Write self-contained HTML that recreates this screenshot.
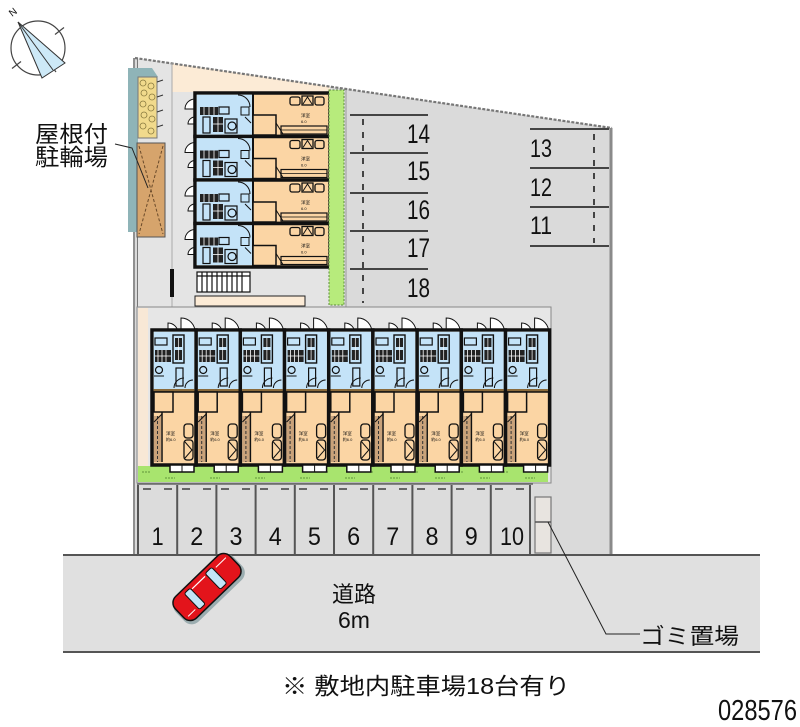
<!DOCTYPE html>
<html><head><meta charset="utf-8"><style>
html,body{margin:0;padding:0;background:#fff;}
svg{display:block;}
text{font-family:"Liberation Sans","Noto Sans CJK JP",sans-serif;fill:#111;}
</style></head><body>
<svg width="800" height="727" viewBox="0 0 800 727" xmlns="http://www.w3.org/2000/svg">
<defs>
<g id="bu">
  <path d="M16,23 V13 A10,10 0 0 1 26,23" fill="#fff" stroke="#111" stroke-width="1"/>
  <path d="M29,23 V8 A14,14 0 0 1 43,23" fill="#fff" stroke="#111" stroke-width="1"/>
  <rect x="0" y="20" width="44" height="135" fill="#fbd5a4" stroke="#111" stroke-width="3.5"/>
  <rect x="1.7" y="21.7" width="40.6" height="58" fill="#c4e3f8"/>
  <rect x="1.7" y="79" width="40.6" height="3" fill="#8a6a3a"/>
  <line x1="0" y1="82" x2="44" y2="82" stroke="#111" stroke-width="1.5"/>
  <rect x="2" y="82" width="19" height="20" fill="#fbd5a4" stroke="#111" stroke-width="1.5"/>
  <rect x="3" y="40" width="16" height="12" fill="#222"/>
  <line x1="6" y1="40" x2="6" y2="52" stroke="#fff" stroke-width="0.8"/>
  <line x1="10" y1="40" x2="10" y2="52" stroke="#fff" stroke-width="0.8"/>
  <line x1="14" y1="40" x2="14" y2="52" stroke="#fff" stroke-width="0.8"/>
  <line x1="3" y1="46" x2="19" y2="46" stroke="#fff" stroke-width="0.8"/>
  <rect x="3" y="28" width="12" height="7" fill="none" stroke="#111" stroke-width="1.2"/>
  <rect x="21" y="25" width="11" height="28" fill="none" stroke="#111" stroke-width="1.4"/>
  <rect x="23" y="28" width="7" height="9" fill="#222"/>
  <rect x="23" y="40" width="7" height="10" fill="#222"/>
  <line x1="26.5" y1="28" x2="26.5" y2="50" stroke="#fff" stroke-width="0.7"/>
  <circle cx="7" cy="60" r="3.5" fill="none" stroke="#111" stroke-width="1.2"/>
  <line x1="2" y1="66" x2="12" y2="66" stroke="#111" stroke-width="1"/>
  <path d="M22,78 A10,10 0 0 1 32,68" fill="none" stroke="#111" stroke-width="1"/>
  <path d="M33,78 A8,8 0 0 1 41,70" fill="none" stroke="#111" stroke-width="1"/>
  <rect x="24" y="58" width="7" height="18" fill="none" stroke="#111" stroke-width="1.2"/>
  <line x1="10" y1="102" x2="10" y2="152" stroke="#111" stroke-width="1.5"/>
  <rect x="2" y="106" width="7" height="46" fill="#c9a27a"/>
  <line x1="5.5" y1="106" x2="5.5" y2="152" stroke="#333" stroke-width="1" stroke-dasharray="3,2"/>
  <line x1="2" y1="112" x2="10" y2="104" stroke="#111" stroke-width="1"/>
  <rect x="32" y="114" width="9" height="14" rx="3" fill="#fbd5a4" stroke="#111" stroke-width="1.3"/>
  <rect x="32" y="130" width="9" height="20" rx="3" fill="#fbd5a4" stroke="#111" stroke-width="1.3"/>
  <path d="M33,132 L40,140 L33,148" fill="none" stroke="#111" stroke-width="1"/>
  <text x="14" y="125" font-size="4.5">洋室</text>
  <text x="14" y="131" font-size="4">約6.0</text>
  <rect x="18" y="155" width="24" height="7" fill="#fff" stroke="#111" stroke-width="1.5"/>
  <line x1="30" y1="155" x2="30" y2="162" stroke="#111" stroke-width="1"/>
</g>
<g id="tu">
  <path d="M12,16 H2 A10,10 0 0 1 12,6" fill="#fff" stroke="#111" stroke-width="1"/>
  <path d="M12,31 H5 A7,7 0 0 1 12,24" fill="#fff" stroke="#111" stroke-width="1"/>
  <rect x="12" y="0" width="135" height="43.5" fill="#fbd5a4" stroke="#111" stroke-width="3.5"/>
  <rect x="13.7" y="1.7" width="56" height="40" fill="#c4e3f8"/>
  <line x1="70" y1="0" x2="70" y2="43.5" stroke="#111" stroke-width="2"/>
  <rect x="70" y="22" width="23" height="20" fill="#fbd5a4" stroke="#111" stroke-width="1.5"/>
  <rect x="17" y="14" width="18" height="8" fill="#222"/>
  <line x1="21" y1="14" x2="21" y2="22" stroke="#fff" stroke-width="0.8"/>
  <line x1="26" y1="14" x2="26" y2="22" stroke="#fff" stroke-width="0.8"/>
  <line x1="31" y1="14" x2="31" y2="22" stroke="#fff" stroke-width="0.8"/>
  <rect x="36" y="14" width="10" height="7" fill="none" stroke="#111" stroke-width="1.2"/>
  <rect x="20" y="24" width="7" height="16" fill="none" stroke="#111" stroke-width="1.2"/>
  <rect x="30" y="24" width="10" height="15" fill="#222"/>
  <line x1="35" y1="24" x2="35" y2="39" stroke="#fff" stroke-width="0.8"/>
  <line x1="30" y1="31" x2="40" y2="31" stroke="#fff" stroke-width="0.8"/>
  <circle cx="49" cy="33" r="4" fill="none" stroke="#111" stroke-width="1.2"/>
  <rect x="42" y="26" width="12" height="14" fill="none" stroke="#111" stroke-width="1.2"/>
  <path d="M55,2 A12,12 0 0 1 67,14" fill="none" stroke="#111"/>
  <rect x="58" y="14" width="8" height="8" fill="none" stroke="#111"/>
  <path d="M62,24 L68,30" stroke="#111"/>
  <rect x="107" y="4" width="10" height="8" rx="2" fill="none" stroke="#111" stroke-width="1.3"/>
  <rect x="119" y="3" width="11" height="9" fill="none" stroke="#111" stroke-width="1.3"/>
  <path d="M120,11 L124.5,4 L129,11" fill="none" stroke="#111"/>
  <rect x="132" y="4" width="9" height="8" rx="2" fill="none" stroke="#111" stroke-width="1.3"/>
  <rect x="98" y="33" width="46" height="8" fill="none" stroke="#111" stroke-width="1.2"/>
  <line x1="98" y1="37" x2="144" y2="37" stroke="#111" stroke-width="0.8"/>
  <line x1="93" y1="30" x2="100" y2="41" stroke="#111" stroke-width="1"/>
  <text x="118" y="24" font-size="4.5">洋室</text>
  <text x="118" y="30" font-size="4">6.0</text>
  <rect x="148" y="3" width="6" height="11" fill="#fff" stroke="#111" stroke-width="1.2"/>
  <rect x="148" y="22" width="6" height="11" fill="#fff" stroke="#111" stroke-width="1.2"/>
</g>
</defs>

<!-- compass -->
<circle cx="38" cy="48" r="27" fill="#fff" stroke="#444" stroke-width="1.2"/>
<line x1="21" y1="61.5" x2="12" y2="68.5" stroke="#444" stroke-width="1.2"/>
<line x1="55" y1="34.5" x2="64" y2="27.5" stroke="#444" stroke-width="1.2"/>
<line x1="50" y1="64" x2="56" y2="72" stroke="#444" stroke-width="1.2"/>
<polygon points="18,22 42,78 65,63" fill="#cde9f7" stroke="#333" stroke-width="1"/>
<line x1="18" y1="22" x2="53" y2="70" stroke="#333" stroke-width="1"/>
<text x="9" y="16" font-size="10" transform="rotate(-38 12 12)">N</text>

<!-- road -->
<rect x="63" y="555" width="697" height="97" fill="#e0e0e0"/>
<line x1="63" y1="555" x2="760" y2="555" stroke="#555" stroke-width="2"/>
<line x1="63" y1="652" x2="760" y2="652" stroke="#555" stroke-width="2"/>

<!-- site -->
<polygon points="135,58 612,128 612,554 135,554" fill="#dadada"/>
<polygon points="137,58.3 330,86.6 330,307 137,307" fill="#e4e4e4"/>
<polygon points="172,63.4 330,86.6 330,92 172,92" fill="#fcebd6"/>
<line x1="135" y1="58" x2="612" y2="128" stroke="#777" stroke-width="2.2" stroke-dasharray="3,1.5"/>
<line x1="611" y1="128" x2="611" y2="554" stroke="#8a8a8a" stroke-width="3"/>
<line x1="134" y1="58" x2="134" y2="554" stroke="#555" stroke-width="1.3"/>
<line x1="137.5" y1="58" x2="137.5" y2="554" stroke="#777" stroke-width="1"/>
<line x1="172" y1="63" x2="172" y2="307" stroke="#aaa" stroke-width="1"/>

<!-- bike parking -->
<rect x="128" y="68" width="10" height="164" fill="#8fb4b8"/>
<polygon points="138,68 152,68 158,77 138,77" fill="#8fb4b8"/>
<rect x="138" y="77" width="19" height="61" fill="#f1da8c" stroke="#777" stroke-width="1"/>
<g fill="none" stroke="#8a7a40" stroke-width="0.8">
<circle cx="143" cy="83" r="3"/><circle cx="151" cy="86" r="3"/><circle cx="144" cy="93" r="3"/><circle cx="152" cy="97" r="3"/>
<circle cx="143" cy="104" r="3"/><circle cx="151" cy="108" r="3"/><circle cx="144" cy="115" r="3"/><circle cx="152" cy="119" r="3"/>
<circle cx="143" cy="126" r="3"/><circle cx="151" cy="131" r="3"/>
</g>
<g stroke="#333" stroke-width="1">
<line x1="157" y1="82" x2="163" y2="80"/><line x1="157" y1="97" x2="163" y2="95"/><line x1="157" y1="112" x2="163" y2="110"/><line x1="157" y1="127" x2="163" y2="125"/>
</g>
<rect x="137" y="143" width="28" height="94" fill="#d6a46c" stroke="#555" stroke-width="1"/>
<line x1="139" y1="146" x2="163" y2="234" stroke="#6a4a2a" stroke-width="1" stroke-dasharray="3,2"/>
<line x1="163" y1="146" x2="139" y2="234" stroke="#6a4a2a" stroke-width="1" stroke-dasharray="3,2"/>

<!-- label 屋根付 駐輪場 -->
<text x="35" y="142" font-size="23" textLength="73" lengthAdjust="spacingAndGlyphs">屋根付</text>
<text x="35" y="165" font-size="23" textLength="73" lengthAdjust="spacingAndGlyphs">駐輪場</text>
<polyline points="115,144 132,148 148,188" fill="none" stroke="#222" stroke-width="1"/>

<!-- top building -->
<use href="#tu" x="183" y="93"/>
<use href="#tu" x="183" y="136.5"/>
<use href="#tu" x="183" y="180"/>
<use href="#tu" x="183" y="223.5"/>
<rect x="170" y="269" width="4" height="28" fill="#111"/>
<rect x="197" y="272" width="53" height="20" fill="#fff" stroke="#111" stroke-width="1.2"/>
<g stroke="#111" stroke-width="1.2">
<line x1="202" y1="272" x2="202" y2="292"/><line x1="207" y1="272" x2="207" y2="292"/><line x1="212" y1="272" x2="212" y2="292"/>
<line x1="217" y1="272" x2="217" y2="292"/><line x1="222" y1="272" x2="222" y2="292"/><line x1="227" y1="272" x2="227" y2="292"/>
<line x1="232" y1="272" x2="232" y2="292"/><line x1="237" y1="272" x2="237" y2="292"/><line x1="242" y1="272" x2="242" y2="292"/>
<line x1="197" y1="276" x2="250" y2="276"/>
</g>
<rect x="195" y="296" width="110" height="10" fill="#fcebd6" stroke="#222" stroke-width="1"/>
<rect x="329" y="90" width="15" height="215" fill="#b7eb7c" stroke="#5a8a3a" stroke-width="1" stroke-dasharray="2,1.5"/>
<line x1="346" y1="90" x2="346" y2="307" stroke="#999" stroke-width="1"/>

<!-- parking 14-18 -->
<g stroke="#444" stroke-width="2">
<line x1="350" y1="115" x2="428" y2="115"/><line x1="350" y1="153" x2="428" y2="153"/><line x1="350" y1="193" x2="428" y2="193"/>
<line x1="350" y1="231" x2="428" y2="231"/><line x1="350" y1="269" x2="428" y2="269"/>
<line x1="363" y1="119" x2="363" y2="303" stroke-dasharray="6,7"/>
<line x1="530" y1="129" x2="609" y2="129"/><line x1="530" y1="168" x2="609" y2="168"/><line x1="530" y1="207" x2="609" y2="207"/><line x1="530" y1="246" x2="609" y2="246"/>
<line x1="594" y1="134" x2="594" y2="243" stroke-dasharray="6,7"/>
</g>
<g font-size="27">
<text x="407" y="143" textLength="23" lengthAdjust="spacingAndGlyphs">14</text>
<text x="407" y="180" textLength="23" lengthAdjust="spacingAndGlyphs">15</text>
<text x="407" y="219" textLength="23" lengthAdjust="spacingAndGlyphs">16</text>
<text x="407" y="257" textLength="23" lengthAdjust="spacingAndGlyphs">17</text>
<text x="407" y="297" textLength="23" lengthAdjust="spacingAndGlyphs">18</text>
</g>
<g font-size="25">
<text x="530" y="157" textLength="22" lengthAdjust="spacingAndGlyphs">13</text>
<text x="530" y="196" textLength="22" lengthAdjust="spacingAndGlyphs">12</text>
<text x="530" y="234" textLength="22" lengthAdjust="spacingAndGlyphs">11</text>
</g>

<!-- bottom building -->
<rect x="137" y="307" width="414" height="176" fill="#e6e6e6" stroke="#888" stroke-width="1"/>
<rect x="138" y="308" width="10" height="160" fill="#f8e8d6"/>
<rect x="138" y="466" width="410" height="16" fill="#a8e46e"/>
<g stroke="#4a7a2a" stroke-width="0.8" stroke-dasharray="2,1">
<line x1="142" y1="472" x2="150" y2="472"/><line x1="165" y1="478" x2="175" y2="478"/><line x1="185" y1="472" x2="193" y2="472"/>
<line x1="210" y1="478" x2="220" y2="478"/><line x1="230" y1="472" x2="238" y2="472"/><line x1="255" y1="478" x2="265" y2="478"/>
<line x1="275" y1="472" x2="283" y2="472"/><line x1="300" y1="478" x2="310" y2="478"/><line x1="320" y1="472" x2="328" y2="472"/>
<line x1="345" y1="478" x2="355" y2="478"/><line x1="365" y1="472" x2="373" y2="472"/><line x1="390" y1="478" x2="400" y2="478"/>
<line x1="410" y1="472" x2="418" y2="472"/><line x1="435" y1="478" x2="445" y2="478"/><line x1="455" y1="472" x2="463" y2="472"/>
<line x1="480" y1="478" x2="490" y2="478"/><line x1="500" y1="472" x2="508" y2="472"/><line x1="525" y1="478" x2="535" y2="478"/>
</g>
<use href="#bu" x="152" y="310"/>
<use href="#bu" x="196.2" y="310"/>
<use href="#bu" x="240.4" y="310"/>
<use href="#bu" x="284.6" y="310"/>
<use href="#bu" x="328.8" y="310"/>
<use href="#bu" x="373" y="310"/>
<use href="#bu" x="417.2" y="310"/>
<use href="#bu" x="461.4" y="310"/>
<use href="#bu" x="505.6" y="310"/>

<!-- parking 1-10 -->
<rect x="138" y="484" width="395" height="70" fill="#dcdcdc"/>
<line x1="138" y1="484" x2="533" y2="484" stroke="#666" stroke-width="1.5"/>
<g stroke="#555" stroke-width="2">
<line x1="138" y1="485" x2="138" y2="554"/><line x1="177.2" y1="485" x2="177.2" y2="554"/><line x1="216.4" y1="485" x2="216.4" y2="554"/>
<line x1="255.6" y1="485" x2="255.6" y2="554"/><line x1="294.8" y1="485" x2="294.8" y2="554"/><line x1="334" y1="485" x2="334" y2="554"/>
<line x1="373.2" y1="485" x2="373.2" y2="554"/><line x1="412.4" y1="485" x2="412.4" y2="554"/><line x1="451.6" y1="485" x2="451.6" y2="554"/>
<line x1="490.8" y1="485" x2="490.8" y2="554"/><line x1="530" y1="485" x2="530" y2="554"/>
</g>
<g stroke="#666" stroke-width="2">
<line x1="143" y1="489" x2="151" y2="489"/><line x1="164" y1="489" x2="172" y2="489"/>
<line x1="182" y1="489" x2="190" y2="489"/><line x1="203" y1="489" x2="211" y2="489"/>
<line x1="221" y1="489" x2="229" y2="489"/><line x1="242" y1="489" x2="250" y2="489"/>
<line x1="260" y1="489" x2="268" y2="489"/><line x1="281" y1="489" x2="289" y2="489"/>
<line x1="299" y1="489" x2="307" y2="489"/><line x1="320" y1="489" x2="328" y2="489"/>
<line x1="339" y1="489" x2="347" y2="489"/><line x1="360" y1="489" x2="368" y2="489"/>
<line x1="378" y1="489" x2="386" y2="489"/><line x1="399" y1="489" x2="407" y2="489"/>
<line x1="417" y1="489" x2="425" y2="489"/><line x1="438" y1="489" x2="446" y2="489"/>
<line x1="456" y1="489" x2="464" y2="489"/><line x1="477" y1="489" x2="485" y2="489"/>
<line x1="495" y1="489" x2="503" y2="489"/><line x1="516" y1="489" x2="524" y2="489"/>
</g>
<g font-size="25" text-anchor="middle">
<text x="157.6" y="545" textLength="12" lengthAdjust="spacingAndGlyphs">1</text>
<text x="196.8" y="545" textLength="13" lengthAdjust="spacingAndGlyphs">2</text>
<text x="236" y="545" textLength="13" lengthAdjust="spacingAndGlyphs">3</text>
<text x="275.2" y="545" textLength="13" lengthAdjust="spacingAndGlyphs">4</text>
<text x="314.4" y="545" textLength="13" lengthAdjust="spacingAndGlyphs">5</text>
<text x="353.6" y="545" textLength="13" lengthAdjust="spacingAndGlyphs">6</text>
<text x="392.8" y="545" textLength="13" lengthAdjust="spacingAndGlyphs">7</text>
<text x="432" y="545" textLength="13" lengthAdjust="spacingAndGlyphs">8</text>
<text x="471.2" y="545" textLength="13" lengthAdjust="spacingAndGlyphs">9</text>
<text x="512" y="545" textLength="24" lengthAdjust="spacingAndGlyphs">10</text>
</g>

<!-- gomi -->
<rect x="535" y="497" width="16" height="56" fill="#e8e4e0" stroke="#777" stroke-width="1.2"/>
<line x1="535" y1="522" x2="551" y2="522" stroke="#555" stroke-width="1.5"/>
<polyline points="548,522 606,634 640,634" fill="none" stroke="#222" stroke-width="1"/>
<text x="640" y="644" font-size="22" textLength="99" lengthAdjust="spacingAndGlyphs">ゴミ置場</text>

<!-- car -->
<g transform="translate(207,587) rotate(-44)">
  <rect x="-40" y="-13" width="80" height="32" rx="10" fill="#8aa0a4" opacity="0.8"/>
  <rect x="-38" y="-15" width="76" height="30" rx="9" fill="#e3141b" stroke="#111" stroke-width="1.5"/>
  <rect x="8" y="-11" width="9" height="22" rx="2" fill="#c3e4f6" stroke="#111" stroke-width="1"/>
  <rect x="-21" y="-11" width="8" height="22" rx="2" fill="#c3e4f6" stroke="#111" stroke-width="1"/>
  <line x1="-12" y1="-9" x2="6" y2="-9" stroke="#fff" stroke-width="1.2"/>
  <line x1="20" y1="-8" x2="34" y2="-8" stroke="#fff" stroke-width="1"/>
  <line x1="-34" y1="8" x2="-24" y2="8" stroke="#fff" stroke-width="1"/>
</g>

<!-- road labels -->
<text x="354" y="602" font-size="22" text-anchor="middle">道路</text>
<text x="354" y="628" font-size="23" text-anchor="middle">6m</text>

<!-- footer -->
<text x="282" y="694" font-size="23" textLength="288" lengthAdjust="spacingAndGlyphs">※ 敷地内駐車場18台有り</text>
<text x="718" y="720" font-size="29" textLength="79" lengthAdjust="spacingAndGlyphs">028576</text>
</svg>
</body></html>
